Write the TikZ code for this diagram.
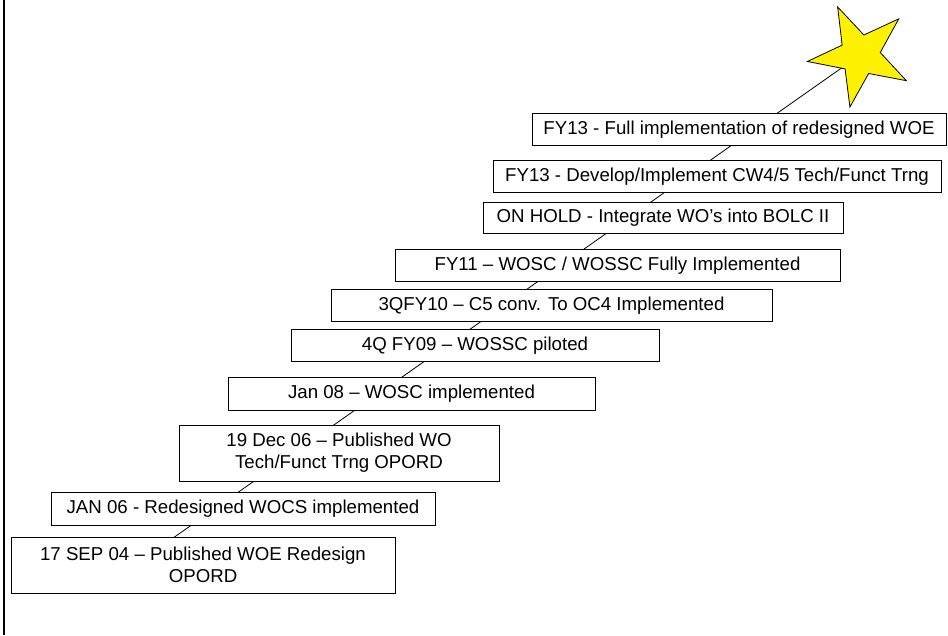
\documentclass[tikz,border=0pt]{standalone}
\usepackage{fontspec}
\setmainfont{Liberation Sans}
\usetikzlibrary{shapes.geometric, backgrounds}

\begin{document}
\begin{tikzpicture}
[
    x=0.75pt, y=-0.75pt,
    font=\fontsize{14}{16.5}\selectfont,
    box/.style={
        draw,
        rectangle,
        fill=white,
        line width=0.6pt,
        minimum height=24.5pt,
        inner sep=0pt,
        align=center,
    },
    tallbox/.style={box, minimum height=42pt},
    trail/.style={line width=0.6pt}
]

\useasboundingbox (0,0) rectangle (948,635);

% left edge of the slide
\draw[line width=2.2pt] (4,0) -- (4,635);

% Define the steps, bottom to top
\node[tallbox, minimum width=288pt] (sep04) at (203,565) {17 SEP 04 – Published WOE Redesign\\OPORD};
\node[box, minimum width=288pt] (jan06) at (243,509) {JAN 06 - Redesigned WOCS implemented};
\node[tallbox, minimum width=240pt] (dec06) at (339,453) {19 Dec 06 – Published WO\\Tech/Funct Trng OPORD};
\node[box, minimum width=275.25pt] (jan08) at (411.5,394) {Jan 08 – WOSC implemented};
\node[box, minimum width=276pt] (fy09) at (475,345.5) {4Q FY09 – WOSSC piloted};
\node[box, minimum width=330.75pt] (fy10) at (551.5,305.5) {3QFY10 – C5 conv. To OC4 Implemented};
\node[box, minimum width=333.75pt] (fy11) at (617.5,265.5) {FY11 – WOSC / WOSSC Fully Implemented};
\node[box, minimum width=270pt, minimum height=23.25pt] (hold) at (663,217.5) {ON HOLD - Integrate WO’s into BOLC II};
\node[box, minimum width=336pt] (fy13dev) at (717,176.5) {FY13 - Develop/Implement CW4/5 Tech/Funct Trng};
\node[box, minimum width=310.5pt] (fy13full) at (739,129.5) {FY13 - Full implementation of redesigned WOE};

% Star at the top of the stairs
\node[star, star points=5, star point ratio=2.6, minimum size=79.5pt, rotate=25,
      draw, fill=yellow, inner sep=0pt, line width=0.6pt] (goal) at (860,55) {};

% Line running up behind the steps
\coordinate (start) at (120.5,575);
\begin{scope}[on background layer]
\draw[trail] (start) -- (goal.center);
\end{scope}

\end{tikzpicture}
\end{document}
